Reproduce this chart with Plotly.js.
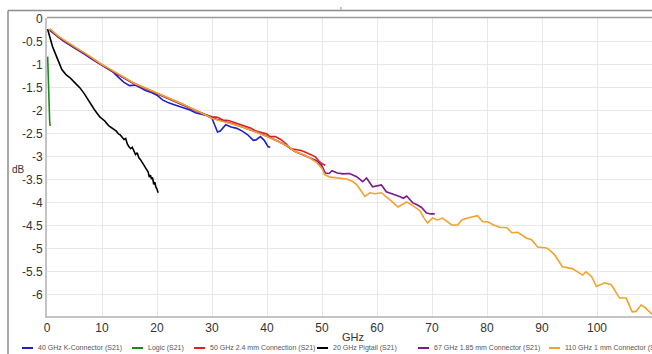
<!DOCTYPE html>
<html>
<head>
<meta charset="utf-8">
<script src="https://cdn.plot.ly/plotly-3.0.1.min.js"></script>
<style>html,body{margin:0;padding:0;background:#fff;}#chart{width:652px;height:354px;}</style>
</head>
<body>
<div id="chart"></div>
<script>
// ---- data ----
const seriesNames = [
  "40 GHz K-Connector (S21)",
  "Logic (S21)",
  "50 GHz 2.4 mm Connection (S21)",
  "20 GHz Pigtail (S21)",
  "67 GHz 1.85 mm Connector (S21)",
  "110 GHz 1 mm Connector (S21)"
];
const seriesColors = ["#1f1fcc", "#1a8a1a", "#e0201c", "#000000", "#7d1a8c", "#f2a32a"];

const kConnX = [0.5,1,2,3,4,5,6,7,8,9,10,11,12,13,14,15,16,17,18,19,20,21,22,23,24,25,26,27,28,29,30,30.5,31,31.5,32.5,33.5,34.5,35.5,36.5,37.5,38,38.8,39.5,40.2,40.6];
const kConnY = [-0.25,-0.3,-0.4,-0.48,-0.56,-0.63,-0.7,-0.78,-0.86,-0.94,-1.01,-1.08,-1.15,-1.27,-1.38,-1.45,-1.44,-1.5,-1.56,-1.6,-1.66,-1.76,-1.82,-1.86,-1.9,-1.94,-1.98,-2.04,-2.07,-2.1,-2.16,-2.3,-2.46,-2.44,-2.3,-2.35,-2.38,-2.44,-2.52,-2.64,-2.63,-2.56,-2.64,-2.78,-2.79];

const logicX = [0.12,0.15,0.2,0.25,0.28,0.32,0.38,0.42,0.48,0.55];
const logicY = [-0.82,-1.0,-1.2,-1.4,-1.55,-1.7,-1.9,-2.05,-2.2,-2.33];

const conn24X = [0.5,1,2,3,4,5,6,7,8,9,10,11,12,13,14,15,16,17,18,19,20,21,22,23,24,25,26,27,28,29,30,31,32,33,34,35,36,37,38,39,40,40.5,41.5,42.5,43.5,44.2,45,46.2,47,48,48.8,49.5,50,50.6];
const conn24Y = [-0.22,-0.28,-0.38,-0.46,-0.55,-0.62,-0.69,-0.76,-0.84,-0.93,-1.0,-1.07,-1.15,-1.22,-1.28,-1.35,-1.41,-1.46,-1.52,-1.57,-1.61,-1.67,-1.72,-1.77,-1.82,-1.87,-1.93,-1.99,-2.04,-2.09,-2.13,-2.14,-2.2,-2.21,-2.25,-2.3,-2.34,-2.37,-2.44,-2.47,-2.5,-2.56,-2.56,-2.62,-2.72,-2.82,-2.83,-2.86,-2.9,-2.96,-3.0,-3.1,-3.15,-3.18];

const pigtailX = [0.1,0.5,1,1.5,2,2.7,3.5,4.2,5,6,6.8,7.8,8.6,9.6,10.5,11.2,11.8,12.2,12.6,13,13.3,13.7,14,14.3,14.6,14.9,15.2,15.5,15.8,16.1,16.4,16.7,17,17.3,17.6,17.9,18.1,18.4,18.6,18.8,19,19.2,19.4,19.6,19.8,20,20.2];
const pigtailY = [-0.22,-0.42,-0.6,-0.75,-0.9,-1.1,-1.22,-1.28,-1.38,-1.5,-1.63,-1.83,-1.97,-2.13,-2.22,-2.32,-2.37,-2.42,-2.44,-2.5,-2.52,-2.58,-2.62,-2.6,-2.72,-2.78,-2.82,-2.79,-2.88,-2.95,-2.91,-3.02,-3.06,-3.12,-3.17,-3.24,-3.3,-3.33,-3.44,-3.4,-3.48,-3.45,-3.6,-3.55,-3.66,-3.7,-3.78];

const conn185X = [0.5,1,2,3,4,5,6,7,8,9,10,11,12,13,14,15,16,17,18,19,20,21,22,23,24,25,26,27,28,29,30,31,32,33,34,35,36,37,38,39,40,41,42,43,44,45,46,47,48,49,50,50.6,51.3,51.8,52.8,53.8,55,56.3,57.4,58.1,59.2,60.8,61.7,62.8,64.1,64.8,65.4,66.5,67.3,68.1,69,69.8,70.5];
const conn185Y = [-0.23,-0.29,-0.39,-0.47,-0.55,-0.62,-0.69,-0.77,-0.85,-0.93,-1.0,-1.08,-1.15,-1.22,-1.29,-1.36,-1.42,-1.47,-1.53,-1.58,-1.63,-1.68,-1.73,-1.78,-1.84,-1.89,-1.95,-2.0,-2.05,-2.1,-2.15,-2.19,-2.22,-2.25,-2.29,-2.33,-2.37,-2.41,-2.46,-2.5,-2.55,-2.6,-2.66,-2.72,-2.79,-2.88,-2.93,-2.98,-3.03,-3.08,-3.2,-3.35,-3.36,-3.3,-3.35,-3.37,-3.36,-3.43,-3.54,-3.46,-3.65,-3.61,-3.76,-3.8,-3.86,-3.9,-3.85,-4.0,-4.04,-4.1,-4.22,-4.24,-4.24];

const conn1X = [0.5,1,2,3,4,5,6,7,8,9,10,11,12,13,14,15,16,17,18,19,20,21,22,23,24,25,26,27,28,29,30,31,32,33,34,35,36,37,38,39,40,41,42,43,44,45,46,47,48,49,50,50.5,51.5,52.7,54.5,55.5,56.3,57,57.8,58.7,59.6,60.8,61.5,62.3,63,63.8,64.6,65.4,66.5,67.8,68.5,69.2,70.1,71,71.9,72.8,73.6,74.7,75.4,76.8,78.3,79.2,80.1,81.2,82.3,83.6,84.5,85.6,86.4,87.2,88.1,89.2,90.8,91.5,92.3,93,93.7,95.5,96.5,97.4,98,99,99.9,100.6,101.4,102.6,103.4,104.1,105.3,105.9,106.4,107.1,108,108.6,109.3,110];
const conn1Y = [-0.21,-0.27,-0.37,-0.45,-0.53,-0.6,-0.68,-0.75,-0.83,-0.92,-0.99,-1.06,-1.13,-1.21,-1.28,-1.34,-1.41,-1.46,-1.51,-1.56,-1.61,-1.66,-1.71,-1.77,-1.82,-1.87,-1.93,-1.98,-2.04,-2.1,-2.16,-2.2,-2.23,-2.27,-2.3,-2.33,-2.37,-2.41,-2.46,-2.51,-2.56,-2.6,-2.66,-2.72,-2.78,-2.88,-2.93,-2.97,-3.04,-3.12,-3.25,-3.39,-3.44,-3.46,-3.48,-3.53,-3.6,-3.72,-3.86,-3.78,-3.8,-3.78,-3.85,-3.91,-4.0,-4.09,-4.03,-3.98,-4.06,-4.17,-4.32,-4.44,-4.33,-4.37,-4.33,-4.42,-4.48,-4.48,-4.37,-4.32,-4.28,-4.41,-4.41,-4.48,-4.53,-4.54,-4.65,-4.64,-4.7,-4.77,-4.8,-4.96,-4.98,-5.04,-5.13,-5.25,-5.39,-5.43,-5.5,-5.57,-5.5,-5.6,-5.82,-5.78,-5.74,-5.78,-5.92,-6.07,-6.07,-6.22,-6.37,-6.36,-6.22,-6.26,-6.35,-6.42];

const xTickVals = [0,10,20,30,40,50,60,70,80,90,100,110];
const xTickText = ["0","10","20","30","40","50","60","70","80","90","100","110"];
const yTickVals = [0,-0.5,-1,-1.5,-2,-2.5,-3,-3.5,-4,-4.5,-5,-5.5,-6];
const yTickText = ["0","-0.5","-1","-1.5","-2","-2.5","-3","-3.5","-4","-4.5","-5","-5.5","-6"];

const xData = [kConnX, logicX, conn24X, pigtailX, conn185X, conn1X];
const yData = [kConnY, logicY, conn24Y, pigtailY, conn185Y, conn1Y];

// ---- layout geometry helpers (pixel -> paper) ----
const W = 652, H = 354;
const M = {l: 47, r: 0, t: 18, b: 38};
const pw = W - M.l - M.r, ph = H - M.t - M.b;
const px = v => (v - M.l) / pw;
const py = v => (H - M.b - v) / ph;

const FONT = "Liberation Sans, Arial, Helvetica, sans-serif";

const traces = xData.map((xs, i) => ({
  x: xs, y: yData[i], type: "scatter", mode: "lines",
  name: seriesNames[i],
  line: {color: seriesColors[i], width: 1.6},
  showlegend: false, hoverinfo: "skip"
}));

const shapes = [
  // outer frame
  {type: "line", xref: "paper", yref: "paper", x0: px(8), x1: px(660), y0: py(10.5), y1: py(10.5), line: {color: "#8c8c8c", width: 1.5}},
  {type: "line", xref: "paper", yref: "paper", x0: px(8), x1: px(8), y0: py(10.5), y1: py(360), line: {color: "#8c8c8c", width: 1.5}},
  // plot top border
  {type: "line", xref: "paper", yref: "paper", x0: 0, x1: px(660), y0: py(17.5), y1: py(17.5), line: {color: "#9a9a9a", width: 1.5}},
  // tiny tick mark at top
  {type: "line", xref: "paper", yref: "paper", x0: px(341), x1: px(341), y0: py(7), y1: py(9.5), line: {color: "#888", width: 1}}
];

// custom legend
const legendY = 348;
const legendLineX = [22, 132, 194, 317, 418, 549];
const annotations = [
  {text: "dB", xref: "paper", yref: "paper", x: px(10), y: py(170), xanchor: "left", yanchor: "middle", showarrow: false, font: {family: FONT, size: 10, color: "#333"}},
  {text: "GHz", xref: "paper", yref: "paper", x: px(353), y: py(337), xanchor: "center", yanchor: "middle", showarrow: false, font: {family: FONT, size: 11, color: "#333"}}
];
legendLineX.forEach((lx, i) => {
  shapes.push({type: "line", xref: "paper", yref: "paper", x0: px(lx), x1: px(lx + 11), y0: py(legendY), y1: py(legendY), line: {color: seriesColors[i], width: 2}});
  annotations.push({text: seriesNames[i], xref: "paper", yref: "paper", x: px(lx + 14), y: py(legendY), xanchor: "left", yanchor: "middle", showarrow: false, font: {family: FONT, size: 7, color: "#555"}});
});

const layout = {
  width: W, height: H,
  margin: M,
  paper_bgcolor: "#ffffff", plot_bgcolor: "#ffffff",
  font: {family: FONT, size: 12, color: "#333"},
  showlegend: false,
  xaxis: {
    range: [0, 110], tickvals: xTickVals, ticktext: xTickText,
    showgrid: true, gridcolor: "#e8e8e8", gridwidth: 1,
    showline: true, linecolor: "#c4c4c4", linewidth: 2,
    zeroline: false, ticks: "", tickfont: {family: FONT, size: 12, color: "#333"}
  },
  yaxis: {
    range: [-6.46, 0.02], tickvals: yTickVals, ticktext: yTickText,
    showgrid: true, gridcolor: "#e8e8e8", gridwidth: 1,
    showline: true, linecolor: "#c4c4c4", linewidth: 2,
    zeroline: false, ticks: "", tickfont: {family: FONT, size: 12, color: "#333"}
  },
  shapes: shapes,
  annotations: annotations
};

Plotly.newPlot("chart", traces, layout, {staticPlot: true, displayModeBar: false});
</script>
</body>
</html>
